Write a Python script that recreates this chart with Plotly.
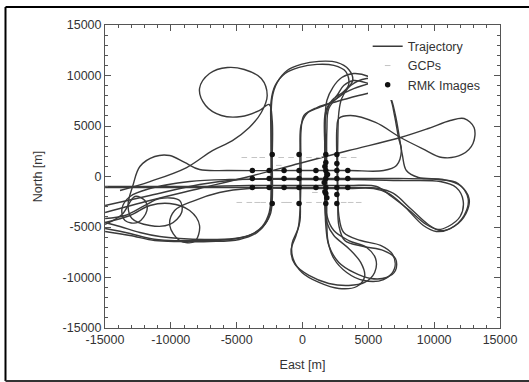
import plotly.graph_objects as go

# ---------------- data (East / North in metres) ----------------
pass_a_x = [-14990, -11590, -7820, -4040, -260, 3510, 7440, 9550, 11220, 12270, 13030, 12950, 12120, 10610, 9100, 7440,
            5550, 3660, 2760, 2610, 2610, 2680, 2760, 3210, 4650, 6160, 7060, 7060, 6380, 5170, 3890, 2760, 2000, 1770,
            1700, 1700, 1700, 2000, 2910, 3510, 3290, 2380, 1100, -260, -1320, -2080, -2380, -2380, -2380, -2380,
            -2680, -3440, -4800, -7060, -9330, -11220, -13100, -14990]
pass_a_y = [-3560, -2380, -1190, 0, 1290, 2570, 3860, 4750, 5540, 5740, 4850, 3270, 2180, 1880, 2770, 3860,
            5350, 6040, 5740, 4750, 1580, -2380, -4850, -6340, -6930, -7330, -8120, -9310, -10000, -10100, -9500, -8510,
            -6830, -4850, -1390, 2570, 6040, 7130, 8020, 9110, 10390, 11000, 11100, 10800, 10200, 9000, 7520, 3560, -400,
            -2870, -4360, -5540, -6240, -6440, -6440, -6340, -5840, -5440]

pass_b_x = [-13860, -11590, -8800, -6840, -5320, -4040, -3130, -2680, -3130, -4420, -5700, -7060, -7820, -7360, -6160,
            -4650, -3290, -2530, -2300, -2300, -2300, -2450, -3060, -4040, -5550, -7820, -10080, -11590, -13100, -14990]
pass_b_y = [-1390, -500, 890, 2570, 3560, 4850, 6340, 8020, 9700, 10590, 10790, 10200, 8710, 7030, 6040,
            5940, 6530, 7130, 5540, 1580, -2380, -3760, -5050, -5840, -6240, -6340, -6340, -6140, -5640, -5150]

pass_c_x = [-14990, -11590, -7820, -4040, -260, 3510, 5780, 6910, 8200, 9550, 10460, 11520, 12420, 12650, 11970, 10690,
            8800, 7890, 7590, 7360, 7060, 6680, 6080, 5020, 3890, 3130, 2610, 2000, 1250, 340, -110, -190, -190, -190,
            -490, -870, -570, 490, 2000, 3510, 4720, 5480, 5550, 4870, 3510, 2380, 1850, 1770, 1770, 1770, 2230, 3130,
            3810, 3510, 2610, 1250, -110, -1170, -1930, -2300, -2380, -2380, -2530, -3060, -3890, -5170, -7440, -9330,
            -10840, -12350, -13860, -14990]
pass_c_y = [-1090, -1090, -1090, -1090, -1090, -1090, -1190, -1680, -3170, -4750, -5350, -4950, -3660, -2180, -890, -300,
            -100, 590, 2080, 3860, 6040, 7820, 8710, 9210, 9500, 9010, 8020, 7230, 6830, 6240, 5050, 2570, -1390, -4360,
            -5840, -7330, -8710, -9800, -10590, -10790, -10490, -9500, -8120, -7030, -6340, -5350, -3860, -1390, 2570,
            6040, 7520, 8410, 9500, 10600, 11300, 11400, 11100, 10500, 9300, 7820, 4550, -1390, -3560, -4950, -5740,
            -6140, -6240, -6140, -5940, -5540, -4950, -4550]

pass_d_x = [-14990, -13480, -11970, -10840, -9330, -9180, -10080, -11590, -12950, -13250, -12880, -12350, -11220,
            -10080, -8950, -7820, -5550, -260, 3510, 6160, 7140, 7510, 7290, 6990, 6680, 6080, 5020, 3890, 2980, 2300,
            1850, 1700, 1700, 1700, 1850, 2380, 3510, 4420, 4720, 4120, 2760, 1250, -40, -720, -790, -340, -190, -110,
            -110, 110, 1100, 2610, 4270, 5780, 6910]
pass_d_y = [-4160, -3860, -2870, -2180, -2380, -3560, -4750, -4850, -4160, -2870, -890, 990, 1980,
            2080, 1390, 690, 590, 590, 590, 590, 1090, 2570, 3860, 6040, 7720, 8910, 9900, 10200, 9800, 8810,
            7520, 5050, 590, -2870, -4550, -5840, -7130, -8510, -9900, -10890, -11090, -10490, -9500, -8120, -6630,
            -5150, -3370, 590, 4550, 6040, 6830, 7430, 8020, 8510, 9010]

pass_e_x = [-14990, -11590, -7820, -4800, -260, 3510, 7290, 10310, 11820, 12580, 12270, 11220, 10160, 9180, 7670, 6530,
            5400, 3510, -260, -4040, -6310, -8200, -9710, -10080, -9330, -8200, -7820, -8570, -10080, -11590, -13100,
            -14990]
pass_e_y = [-2870, -1880, -790, -300, -200, -200, -200, -300, -690, -2180, -3860, -5150, -5440, -4850, -2870, -1680,
            -1190, -1190, -1190, -1190, -1580, -2380, -3370, -4850, -6340, -6440, -4850, -3370, -2670, -2870, -3860,
            -4550]

pass_f_x = [-14990, -13710, -12730, -11970, -11820, -12500, -13480, -13710, -13100, -11590, -8570, -5550, -260, 3510,
            7290, 10460, 11670, 12200, 11970, 11060, 10310, 9400, 8040, 6760, 5630, 3510, -260, -4040, -7820, -11590,
            -14990]
pass_f_y = [-4750, -3760, -1980, -2380, -3370, -4550, -4360, -3170, -1980, -1190, -500, -300, -300, -300,
            -400, -500, -1090, -2380, -3960, -4950, -5250, -4750, -3270, -1980, -990, -890, -890, -890, -990, -990,
            -990]

pass_g_x = [6680, 4870, 3660, 2980, 2760, 2680, 2680, 2760, 3130, 4420, 5930, 6840, 6990, 6160, 4650, 3360, 2380, 1930,
            1850, 1850, 1850, 2000, 2760, 3890, 5400, 6910]
pass_g_y = [9500, 9700, 9010, 7720, 6340, 3560, -400, -3860, -5540, -6340, -6830, -7720, -9110, -10200, -10300, -9500,
            -8120, -6340, -4360, -400, 4550, 6730, 7920, 8710, 9310, 9700]

gcp_x = [-4420, -3660, -3060, -1620, -870, 490, 1250, 3130, 3890,
         -4800, -4040, -3440, -2990, -1400, -1020, 490, 1250, 3130, 3660, 4270, -1800, 940]
gcp_y = [1880, 1880, 1880, 1880, 1880, 1880, 1880, 1880, 1880,
         -2570, -2570, -2570, -2570, -2570, -2570, -2570, -2570, -2570, -2570, -2570, 1100, -1580]

rmk_x = [-3810, -2530, -1400, -260, 1020, 1770, 2610, 3440,
         -3810, -2530, -1400, -260, 1020, 1770, 2610, 3440,
         -3810, -2530, -1400, -260, 1020, 1770, 2610, 3440,
         -2300, -260, 1770, 2610,
         -2300, -260, 1770, 2610,
         1770, 1700, 2610, 1770, 1850, 2610, 1650, 1900, 1700]
rmk_y = [590, 590, 590, 590, 590, 590, 590, 590,
         -200, -200, -200, -200, -200, -200, -200, -200,
         -1090, -1090, -1090, -1090, -1090, -1090, -1090, -1090,
         2180, 2180, 2180, 2180,
         -2670, -2670, -2670, -2670,
         1390, 1000, 1290, -1680, -2100, -1780, -600, 200, -1500]

tick_vals = [-15000, -10000, -5000, 0, 5000, 10000, 15000]
tick_text = ["-15000", "-10000", "-5000", "0", "5000", "10000", "15000"]

passes = [(pass_a_x, pass_a_y), (pass_b_x, pass_b_y), (pass_c_x, pass_c_y), (pass_d_x, pass_d_y),
          (pass_e_x, pass_e_y), (pass_f_x, pass_f_y), (pass_g_x, pass_g_y)]

# ---------------- figure ----------------
fig = go.Figure()
for i, (px_, py_) in enumerate(passes):
    fig.add_trace(go.Scatter(
        x=px_, y=py_, mode="lines", name="Trajectory",
        line=dict(color="#3a3a3a", width=1.4, shape="spline", smoothing=1.0),
        legendgroup="traj", showlegend=(i == 0), hoverinfo="skip"))

fig.add_trace(go.Scatter(
    x=gcp_x, y=gcp_y, mode="markers", name="GCPs",
    marker=dict(symbol="line-ew-open", size=4, color="#c4c4c4", line=dict(color="#c4c4c4", width=1))))

fig.add_trace(go.Scatter(
    x=rmk_x, y=rmk_y, mode="markers", name="RMK Images",
    marker=dict(symbol="circle", size=5.5, color="#111111")))

axis_common = dict(
    range=[-15000, 15000], tickmode="array", tickvals=tick_vals, ticktext=tick_text,
    ticks="inside", ticklen=6, tickwidth=1, tickcolor="#555555",
    showline=True, linecolor="#555555", linewidth=1, mirror="ticks",
    showgrid=False, zeroline=False,
    minor=dict(tickmode="linear", tick0=0, dtick=1000, ticks="inside", ticklen=3, tickcolor="#555555"),
    tickfont=dict(family="Liberation Sans, Arial, sans-serif", size=12.5, color="#333333"),
)

fig.update_layout(
    width=529, height=382,
    margin=dict(l=105, r=27, t=25, b=54),
    paper_bgcolor="white", plot_bgcolor="white",
    font=dict(family="Liberation Sans, Arial, sans-serif", size=12, color="#333333"),
    xaxis=dict(axis_common, title=dict(text="East [m]", font=dict(size=12.5), standoff=14)),
    yaxis=dict(axis_common, title=dict(text="North [m]", font=dict(size=12.5), standoff=17)),
    legend=dict(x=0.665, y=0.978, xanchor="left", yanchor="top", bgcolor="white",
                borderwidth=0, font=dict(size=12.5, color="#333333"), tracegroupgap=0),
    showlegend=True,
)

# outer page frame (left, top, bottom edges; right edge lies outside the picture)
frame_style = dict(color="black", width=2)
fig.add_shape(type="line", xref="paper", yref="paper", x0=-0.2519, x1=-0.2519, y0=-0.1749, y1=1.0594, line=frame_style)
fig.add_shape(type="line", xref="paper", yref="paper", x0=-0.2519, x1=1.2, y0=1.0594, y1=1.0594, line=frame_style)
fig.add_shape(type="line", xref="paper", yref="paper", x0=-0.2519, x1=1.2, y0=-0.1749, y1=-0.1749,
              line=dict(color="#333333", width=2))

fig.write_html("out.html", config={"displayModeBar": False},
               post_script="document.documentElement.style.overflow='hidden';"
                           "document.body.style.margin='0';document.body.style.overflow='hidden';")
